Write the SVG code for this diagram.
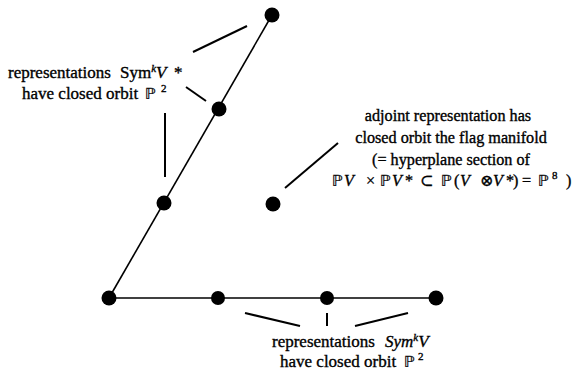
<svg xmlns="http://www.w3.org/2000/svg" width="576" height="373" viewBox="0 0 576 373">
<style>
.edge{stroke:#000;stroke-width:1.6;fill:none}
.ptr{stroke:#000;stroke-width:2;fill:none}
.dot{fill:#000}
text{font-family:"Liberation Serif","DejaVu Serif",serif;font-size:16.2px;fill:#000;stroke:#000;stroke-width:0.35}
.lg{font-size:17px}
.it{font-style:italic}
.sup{font-size:11px}
.bb{font-family:"DejaVu Sans",sans-serif;font-size:15.5px;stroke-width:0.2}
</style>
<rect width="576" height="373" fill="#fff"/>
<g id="connectors">
<line class="edge" x1="109" y1="298" x2="272" y2="15"/>
<line class="edge" x1="109" y1="298" x2="436" y2="298"/>
<line class="ptr" x1="193" y1="52" x2="247" y2="26"/>
<line class="ptr" x1="186" y1="87" x2="206" y2="101"/>
<line class="ptr" x1="165" y1="113" x2="165" y2="177"/>
<line class="ptr" x1="285" y1="188" x2="338" y2="143"/>
<line class="ptr" x1="245" y1="313" x2="300" y2="326"/>
<line class="ptr" x1="327" y1="313" x2="327" y2="326"/>
<line class="ptr" x1="355" y1="326" x2="408" y2="313"/>
</g>
<g id="n1"><circle class="dot" cx="272" cy="15" r="7.5"/></g>
<g id="n2"><circle class="dot" cx="219" cy="109" r="7.5"/></g>
<g id="n3"><circle class="dot" cx="164" cy="203" r="7.5"/></g>
<g id="n4"><circle class="dot" cx="273" cy="204" r="7.5"/></g>
<g id="n5"><circle class="dot" cx="109" cy="298" r="7.5"/></g>
<g id="n6"><circle class="dot" cx="218" cy="298" r="7"/></g>
<g id="n7"><circle class="dot" cx="327" cy="298" r="7"/></g>
<g id="n8"><circle class="dot" cx="436" cy="298" r="7.5"/></g>
<g id="label-left">
<text class="lg" x="8" y="78">representations<tspan x="120">Sym</tspan><tspan class="it sup" dy="-6">k</tspan><tspan class="it" dy="6">V</tspan><tspan x="174">*</tspan></text>
<text class="lg" x="22" y="99">have closed orbit<tspan class="bb" x="145">ℙ</tspan><tspan class="sup" dy="-7" x="161">2</tspan></text>
</g>
<g id="label-right">
<text x="448" y="121" text-anchor="middle">adjoint representation has</text>
<text x="451" y="143" text-anchor="middle">closed orbit the flag manifold</text>
<text x="451" y="165" text-anchor="middle">(= hyperplane section of</text>
<text y="186"><tspan class="bb" x="332">ℙ</tspan><tspan class="it" x="344">V</tspan><tspan x="366">×</tspan><tspan class="bb" x="380">ℙ</tspan><tspan class="it" x="392">V</tspan><tspan x="405">*</tspan><tspan x="420">⊂</tspan><tspan class="bb" x="441">ℙ</tspan><tspan x="454">(</tspan><tspan class="it" x="460">V</tspan><tspan x="480">⊗</tspan><tspan class="it" x="493">V</tspan><tspan x="506">*</tspan><tspan x="513">)</tspan><tspan x="522">=</tspan><tspan class="bb" x="538">ℙ</tspan><tspan class="sup" dy="-7" x="552">8</tspan><tspan dy="7" x="566">)</tspan></text>
</g>
<g id="label-bottom">
<text class="lg" x="272" y="347">representations<tspan class="it" x="385">Sym</tspan><tspan class="it sup" dy="-6">k</tspan><tspan class="it" dy="6">V</tspan></text>
<text class="lg" x="280" y="367">have closed orbit<tspan class="bb" x="404">ℙ</tspan><tspan class="sup" dy="-7" x="418">2</tspan></text>
</g>
</svg>
